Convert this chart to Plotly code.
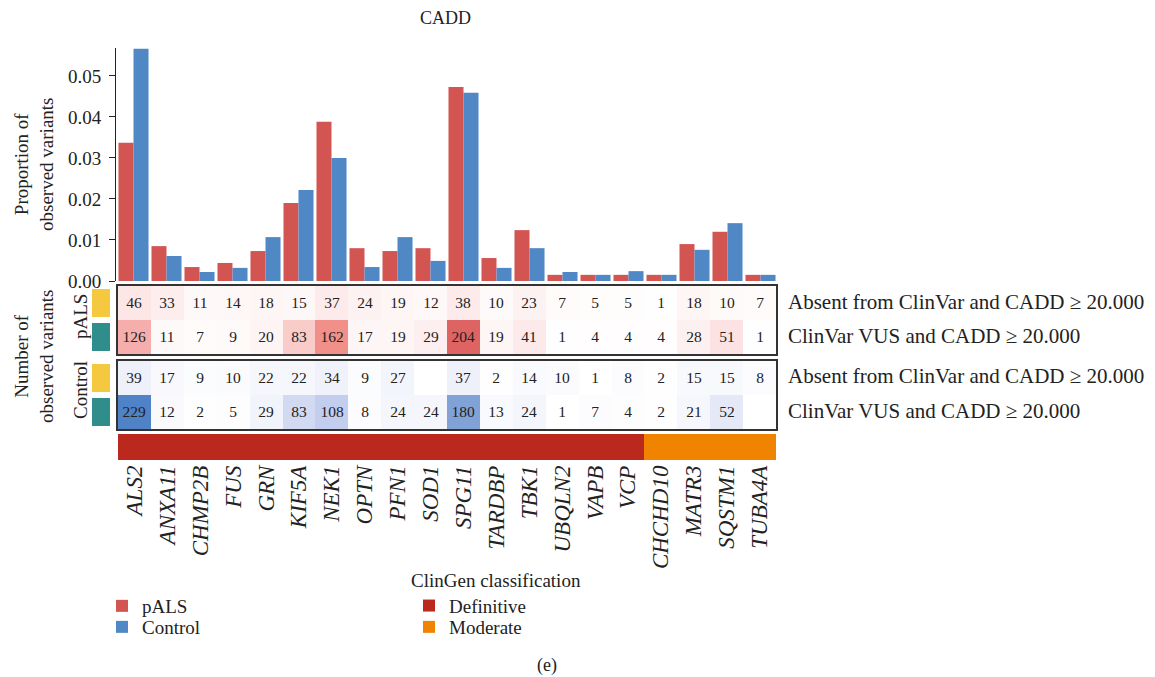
import plotly.graph_objects as go

W, H = 1155, 677
FONT = "Liberation Serif, Times New Roman, serif"

genes = ["ALS2", "ANXA11", "CHMP2B", "FUS", "GRN", "KIF5A", "NEK1", "OPTN", "PFN1", "SOD1",
         "SPG11", "TARDBP", "TBK1", "UBQLN2", "VAPB", "VCP", "CHCHD10", "MATR3", "SQSTM1", "TUBA4A"]
clingen = ["Definitive", "Definitive", "Definitive", "Definitive", "Definitive", "Definitive",
           "Definitive", "Definitive", "Definitive", "Definitive", "Definitive", "Definitive",
           "Definitive", "Definitive", "Definitive", "Definitive",
           "Moderate", "Moderate", "Moderate", "Moderate"]

prop_pals = [0.0337, 0.0085, 0.0034, 0.0044, 0.0073, 0.0190, 0.0388, 0.0080, 0.0073, 0.0080,
             0.0473, 0.0056, 0.0124, 0.0015, 0.0015, 0.0015, 0.0015, 0.0090, 0.0120, 0.0015]
prop_ctrl = [0.0566, 0.0061, 0.0022, 0.0032, 0.0107, 0.0222, 0.0300, 0.0034, 0.0107, 0.0049,
             0.0459, 0.0032, 0.0080, 0.0022, 0.0015, 0.0024, 0.0015, 0.0076, 0.0141, 0.0015]

pals_absent = [46, 33, 11, 14, 18, 15, 37, 24, 19, 12, 38, 10, 23, 7, 5, 5, 1, 18, 10, 7]
pals_vus = [126, 11, 7, 9, 20, 83, 162, 17, 19, 29, 204, 19, 41, 1, 4, 4, 4, 28, 51, 1]
ctrl_absent = [39, 17, 9, 10, 22, 22, 34, 9, 27, None, 37, 2, 14, 10, 1, 8, 2, 15, 15, 8]
ctrl_vus = [229, 12, 2, 5, 29, 83, 108, 8, 24, 24, 180, 13, 24, 1, 7, 4, 2, 21, 52, None]

row_labels = ["Absent from ClinVar and CADD ≥ 20.000", "ClinVar VUS and CADD ≥ 20.000"]

RED = "#D25552"
BLUE = "#5087C5"
DEF_C = "#BA281E"
MOD_C = "#F08300"
YEL = "#F5C93F"
TEAL = "#2F8D8B"
INK = "#222222"

red_scale = [[0, "#FFFFFF"], [0.2, "#FCE6E6"], [0.36, "#F9CBC9"], [0.55, "#F5AEAB"],
             [0.71, "#F09088"], [0.89, "#DE6464"], [1, "#D65555"]]
blue_scale = [[0, "#FFFFFF"], [0.17, "#EEF0FA"], [0.36, "#D1DAF1"], [0.47, "#C3CDEE"],
              [0.79, "#7FA1D6"], [1, "#4F82C6"]]


def F(size, color=INK):
    return dict(family=FONT, size=size, color=color)


def px_x(p):
    return p / W


def dom_y(top, bot):
    return [1 - bot / H, 1 - top / H]


xdom = [px_x(117), px_x(777)]
xidx = list(range(len(genes)))


def txt(row):
    return ["" if v is None else str(v) for v in row]


fig = go.Figure()

# bars
fig.add_trace(go.Bar(x=xidx, y=prop_pals, name="pALS", marker=dict(color=RED, line=dict(width=0)),
                     xaxis="x", yaxis="y", legend="legend", showlegend=True))
fig.add_trace(go.Bar(x=xidx, y=prop_ctrl, name="Control", marker=dict(color=BLUE, line=dict(width=0)),
                     xaxis="x", yaxis="y", legend="legend3", showlegend=True))

# heatmaps
fig.add_trace(go.Heatmap(z=[pals_absent, pals_vus], x=xidx, y=[0, 1], text=[txt(pals_absent), txt(pals_vus)],
                         texttemplate="%{text}", textfont=F(15.5),
                         colorscale=red_scale, zmin=0, zmax=229, showscale=False, xaxis="x2", yaxis="y2",
                         hoverinfo="skip", showlegend=False))
fig.add_trace(go.Heatmap(z=[ctrl_absent, ctrl_vus], x=xidx, y=[0, 1], text=[txt(ctrl_absent), txt(ctrl_vus)],
                         texttemplate="%{text}", textfont=F(15.5),
                         colorscale=blue_scale, zmin=0, zmax=229, showscale=False, xaxis="x3", yaxis="y3",
                         hoverinfo="skip", showlegend=False))

# ClinGen bar
fig.add_trace(go.Heatmap(z=[[0 if c == "Definitive" else 1 for c in clingen]], x=xidx, y=[0],
                         colorscale=[[0, DEF_C], [1, MOD_C]], zmin=0, zmax=1, showscale=False,
                         xaxis="x4", yaxis="y4", hoverinfo="skip", showlegend=False))

# row category squares
for xa, ya in (("x5", "y5"), ("x6", "y6")):
    fig.add_trace(go.Heatmap(z=[[0], [1]], x=[0], y=[0, 1], colorscale=[[0, YEL], [1, TEAL]],
                             zmin=0, zmax=1, ygap=6, showscale=False, xaxis=xa, yaxis=ya,
                             hoverinfo="skip", showlegend=False))

# ClinGen legend entries
fig.add_trace(go.Bar(x=[None], y=[None], name="Definitive", marker=dict(color=DEF_C, line=dict(width=0)),
                     xaxis="x4", yaxis="y4", legend="legend2", showlegend=True))
fig.add_trace(go.Bar(x=[None], y=[None], name="Moderate", marker=dict(color=MOD_C, line=dict(width=0)),
                     xaxis="x4", yaxis="y4", legend="legend4", showlegend=True))

hidden_x = dict(range=[-0.5, 19.5], showticklabels=False, ticks="", showgrid=False, zeroline=False,
                automargin=False)
box_axis = dict(showline=True, mirror=True, linecolor="#333", linewidth=2)
plain_y = dict(showticklabels=False, ticks="", showgrid=False, zeroline=False, automargin=False)
leg = dict(xanchor="left", bgcolor="rgba(0,0,0,0)", font=F(19), itemwidth=30, tracegroupgap=0,
           visible=True)

fig.update_layout(
    template="none",
    showlegend=True,
    width=W, height=H, autosize=False,
    margin=dict(l=0, r=0, t=0, b=0, pad=0, autoexpand=False),
    paper_bgcolor="white", plot_bgcolor="white",
    font=F(18),
    barmode="group", bargap=0.09, bargroupgap=0,
    xaxis=dict(domain=xdom, anchor="y", **hidden_x, showline=False),
    yaxis=dict(domain=dom_y(48, 281), anchor="free", position=px_x(115), range=[0, 0.0568],
               tickvals=[0, 0.01, 0.02, 0.03, 0.04, 0.05], tickformat=".2f",
               ticks="outside", ticklen=6, tickcolor=INK, showline=True, linecolor=INK,
               linewidth=1, showgrid=False, zeroline=False, tickfont=F(19), automargin=False,
               ticklabelstandoff=4),
    xaxis2=dict(domain=[px_x(118), px_x(776)], anchor="y2", **hidden_x, **box_axis),
    yaxis2=dict(domain=dom_y(286, 354), anchor="x2", range=[1.5, -0.5], **plain_y, **box_axis),
    xaxis3=dict(domain=[px_x(118), px_x(776)], anchor="y3", **hidden_x, **box_axis),
    yaxis3=dict(domain=dom_y(361, 429), anchor="x3", range=[1.5, -0.5], **plain_y, **box_axis),
    xaxis4=dict(domain=[px_x(118), px_x(776)], anchor="y4", range=[-0.5, 19.5], tickvals=xidx,
                ticktext=["<i>" + g + "</i>" for g in genes], tickangle=-90, ticks="",
                showgrid=False, zeroline=False, showline=False, tickfont=F(23), automargin=False),
    yaxis4=dict(domain=dom_y(434, 460), anchor="x4", range=[-0.5, 0.5], **plain_y),
    xaxis5=dict(domain=[px_x(92), px_x(110)], anchor="y5", range=[-0.5, 0.5], **plain_y),
    yaxis5=dict(domain=dom_y(286, 354), anchor="x5", range=[1.5, -0.5], **plain_y),
    xaxis6=dict(domain=[px_x(92), px_x(110)], anchor="y6", range=[-0.5, 0.5], **plain_y),
    yaxis6=dict(domain=dom_y(361, 429), anchor="x6", range=[1.5, -0.5], **plain_y),
    legend=dict(x=px_x(102), y=1 - 606 / H, yanchor="middle", **leg),
    legend3=dict(x=px_x(102), y=1 - 627 / H, yanchor="middle", **leg),
    legend2=dict(x=px_x(409), y=1 - 562 / H, yanchor="top", **leg,
                 title=dict(text="ClinGen classification", side="top", font=F(19))),
    legend4=dict(x=px_x(409), y=1 - 627 / H, yanchor="middle", **leg),
)

ann = [
    dict(text="CADD", x=px_x(445), y=1 - 18 / H, font=F(18)),
    dict(text="Proportion of<br>observed variants", x=px_x(34), y=1 - 165 / H, textangle=-90, font=F(19)),
    dict(text="Number of<br>observed variants", x=px_x(34), y=1 - 357 / H, textangle=-90, font=F(19)),
    dict(text="pALS", x=px_x(80), y=1 - 317 / H, textangle=-90, font=F(19)),
    dict(text="Control", x=px_x(80), y=1 - 390 / H, textangle=-90, font=F(19)),
    dict(text="(e)", x=px_x(547), y=1 - 665 / H, font=F(18)),
]
for yc, lab in zip((302, 336, 376, 411), row_labels + row_labels):
    ann.append(dict(text=lab, x=px_x(786), y=1 - yc / H, xanchor="left", font=F(21)))

for a in ann:
    a.setdefault("xanchor", "center")
    a.update(xref="paper", yref="paper", yanchor="middle", showarrow=False)
fig.update_layout(annotations=ann)

fig.write_html("out.html")
